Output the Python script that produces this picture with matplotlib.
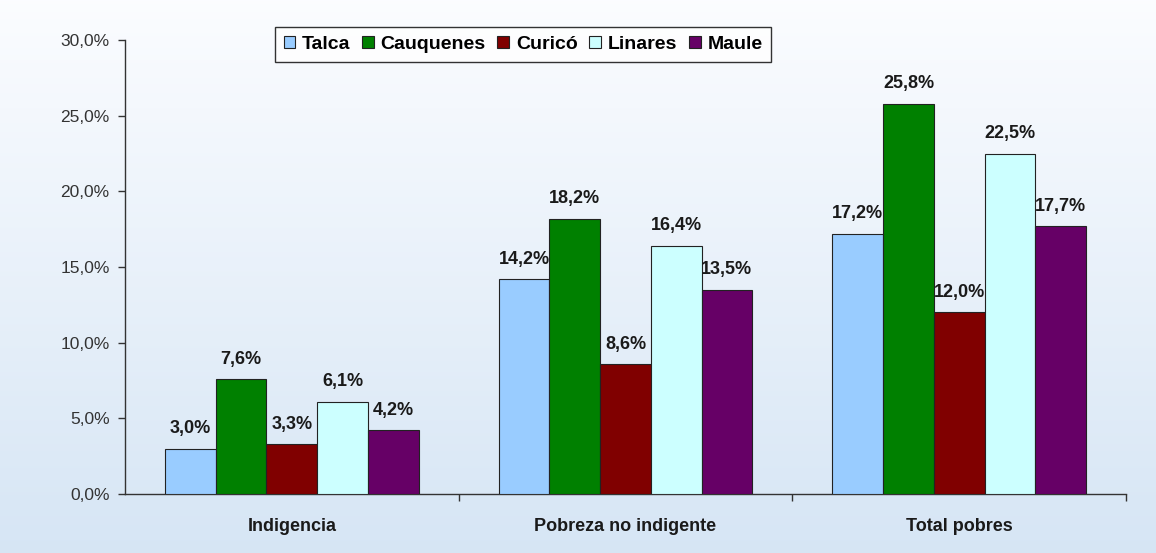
import matplotlib
matplotlib.use("Agg")
import matplotlib.pyplot as plt
import numpy as np
from matplotlib.ticker import FixedLocator

categories = ["Indigencia", "Pobreza no indigente", "Total pobres"]
series_names = ["Talca", "Cauquenes", "Curicó", "Linares", "Maule"]
talca = [3.0, 14.2, 17.2]
cauquenes = [7.6, 18.2, 25.8]
curico = [3.3, 8.6, 12.0]
linares = [6.1, 16.4, 22.5]
maule = [4.2, 13.5, 17.7]
yticks = [0, 5, 10, 15, 20, 25, 30]
colors = ["#99ccff", "#008000", "#800000", "#ccffff", "#660066"]

plt.rcParams['font.family'] = ['Liberation Sans', 'DejaVu Sans']

fig = plt.figure(figsize=(11.56, 5.53), dpi=100)
# background gradient
bg = fig.add_axes([0, 0, 1, 1], zorder=-10)
grad = np.linspace(0, 1, 256).reshape(-1, 1)
top = np.array([0.985, 0.99, 1.0])
bot = np.array([0.84, 0.90, 0.96])
img = top[None, None, :] * (1 - grad[:, :, None]) + bot[None, None, :] * grad[:, :, None]
bg.imshow(img, aspect='auto', extent=[0, 1, 0, 1])
bg.axis('off')

W, H = 1156, 553
left, right = 125, 1126
ytop, ybot = 40, 494
ax = fig.add_axes([left / W, 1 - ybot / H, (right - left) / W, (ybot - ytop) / H])
ax.patch.set_alpha(0)

data = [talca, cauquenes, curico, linares, maule]
x = np.arange(len(categories))
bw = 0.152
for i, (name, vals, c) in enumerate(zip(series_names, data, colors)):
    pos = x - 2 * bw + i * bw
    ax.bar(pos, vals, width=bw, color=c, edgecolor="#222222", linewidth=0.8, label=name, zorder=3)
    for p, v in zip(pos, vals):
        ax.text(p, v + 0.75, f"{v:.1f}%".replace(".", ","), ha='center', va='bottom',
                fontsize=13, fontweight='bold', color='#1a1a1a', zorder=4)

ax.set_xlim(-0.5, 2.5)
ax.set_ylim(0, 30)
ax.set_yticks(yticks)
ax.set_yticklabels([f"{t:.1f}%".replace(".", ",") for t in yticks], fontsize=12.5, color='#333333')
ax.set_xticks(x)
ax.set_xticklabels(categories, fontsize=13, fontweight='bold', color='#1a1a1a')
ax.xaxis.set_minor_locator(FixedLocator([0.5, 1.5, 2.5]))
ax.tick_params(axis='x', which='major', length=0, pad=17)
ax.tick_params(axis='x', which='minor', length=5, width=1, color='#333333')
ax.tick_params(axis='y', length=5, width=1, color='#333333', pad=6)
for s in ['top', 'right']:
    ax.spines[s].set_visible(False)
for s in ['left', 'bottom']:
    ax.spines[s].set_color('#333333')
    ax.spines[s].set_linewidth(1)

leg = ax.legend(loc='upper center', bbox_to_anchor=(523 / W, 1 - 27 / H), bbox_transform=fig.transFigure,
                ncol=5, frameon=True, fancybox=False, edgecolor='black',
                prop={'weight': 'bold', 'size': 14}, handlelength=0.6, handleheight=0.6,
                handletextpad=0.35, columnspacing=0.6, borderpad=0.45, borderaxespad=0)
leg.get_frame().set_linewidth(1)
leg.get_frame().set_facecolor('white')

fig.savefig("out.png", dpi=100)
